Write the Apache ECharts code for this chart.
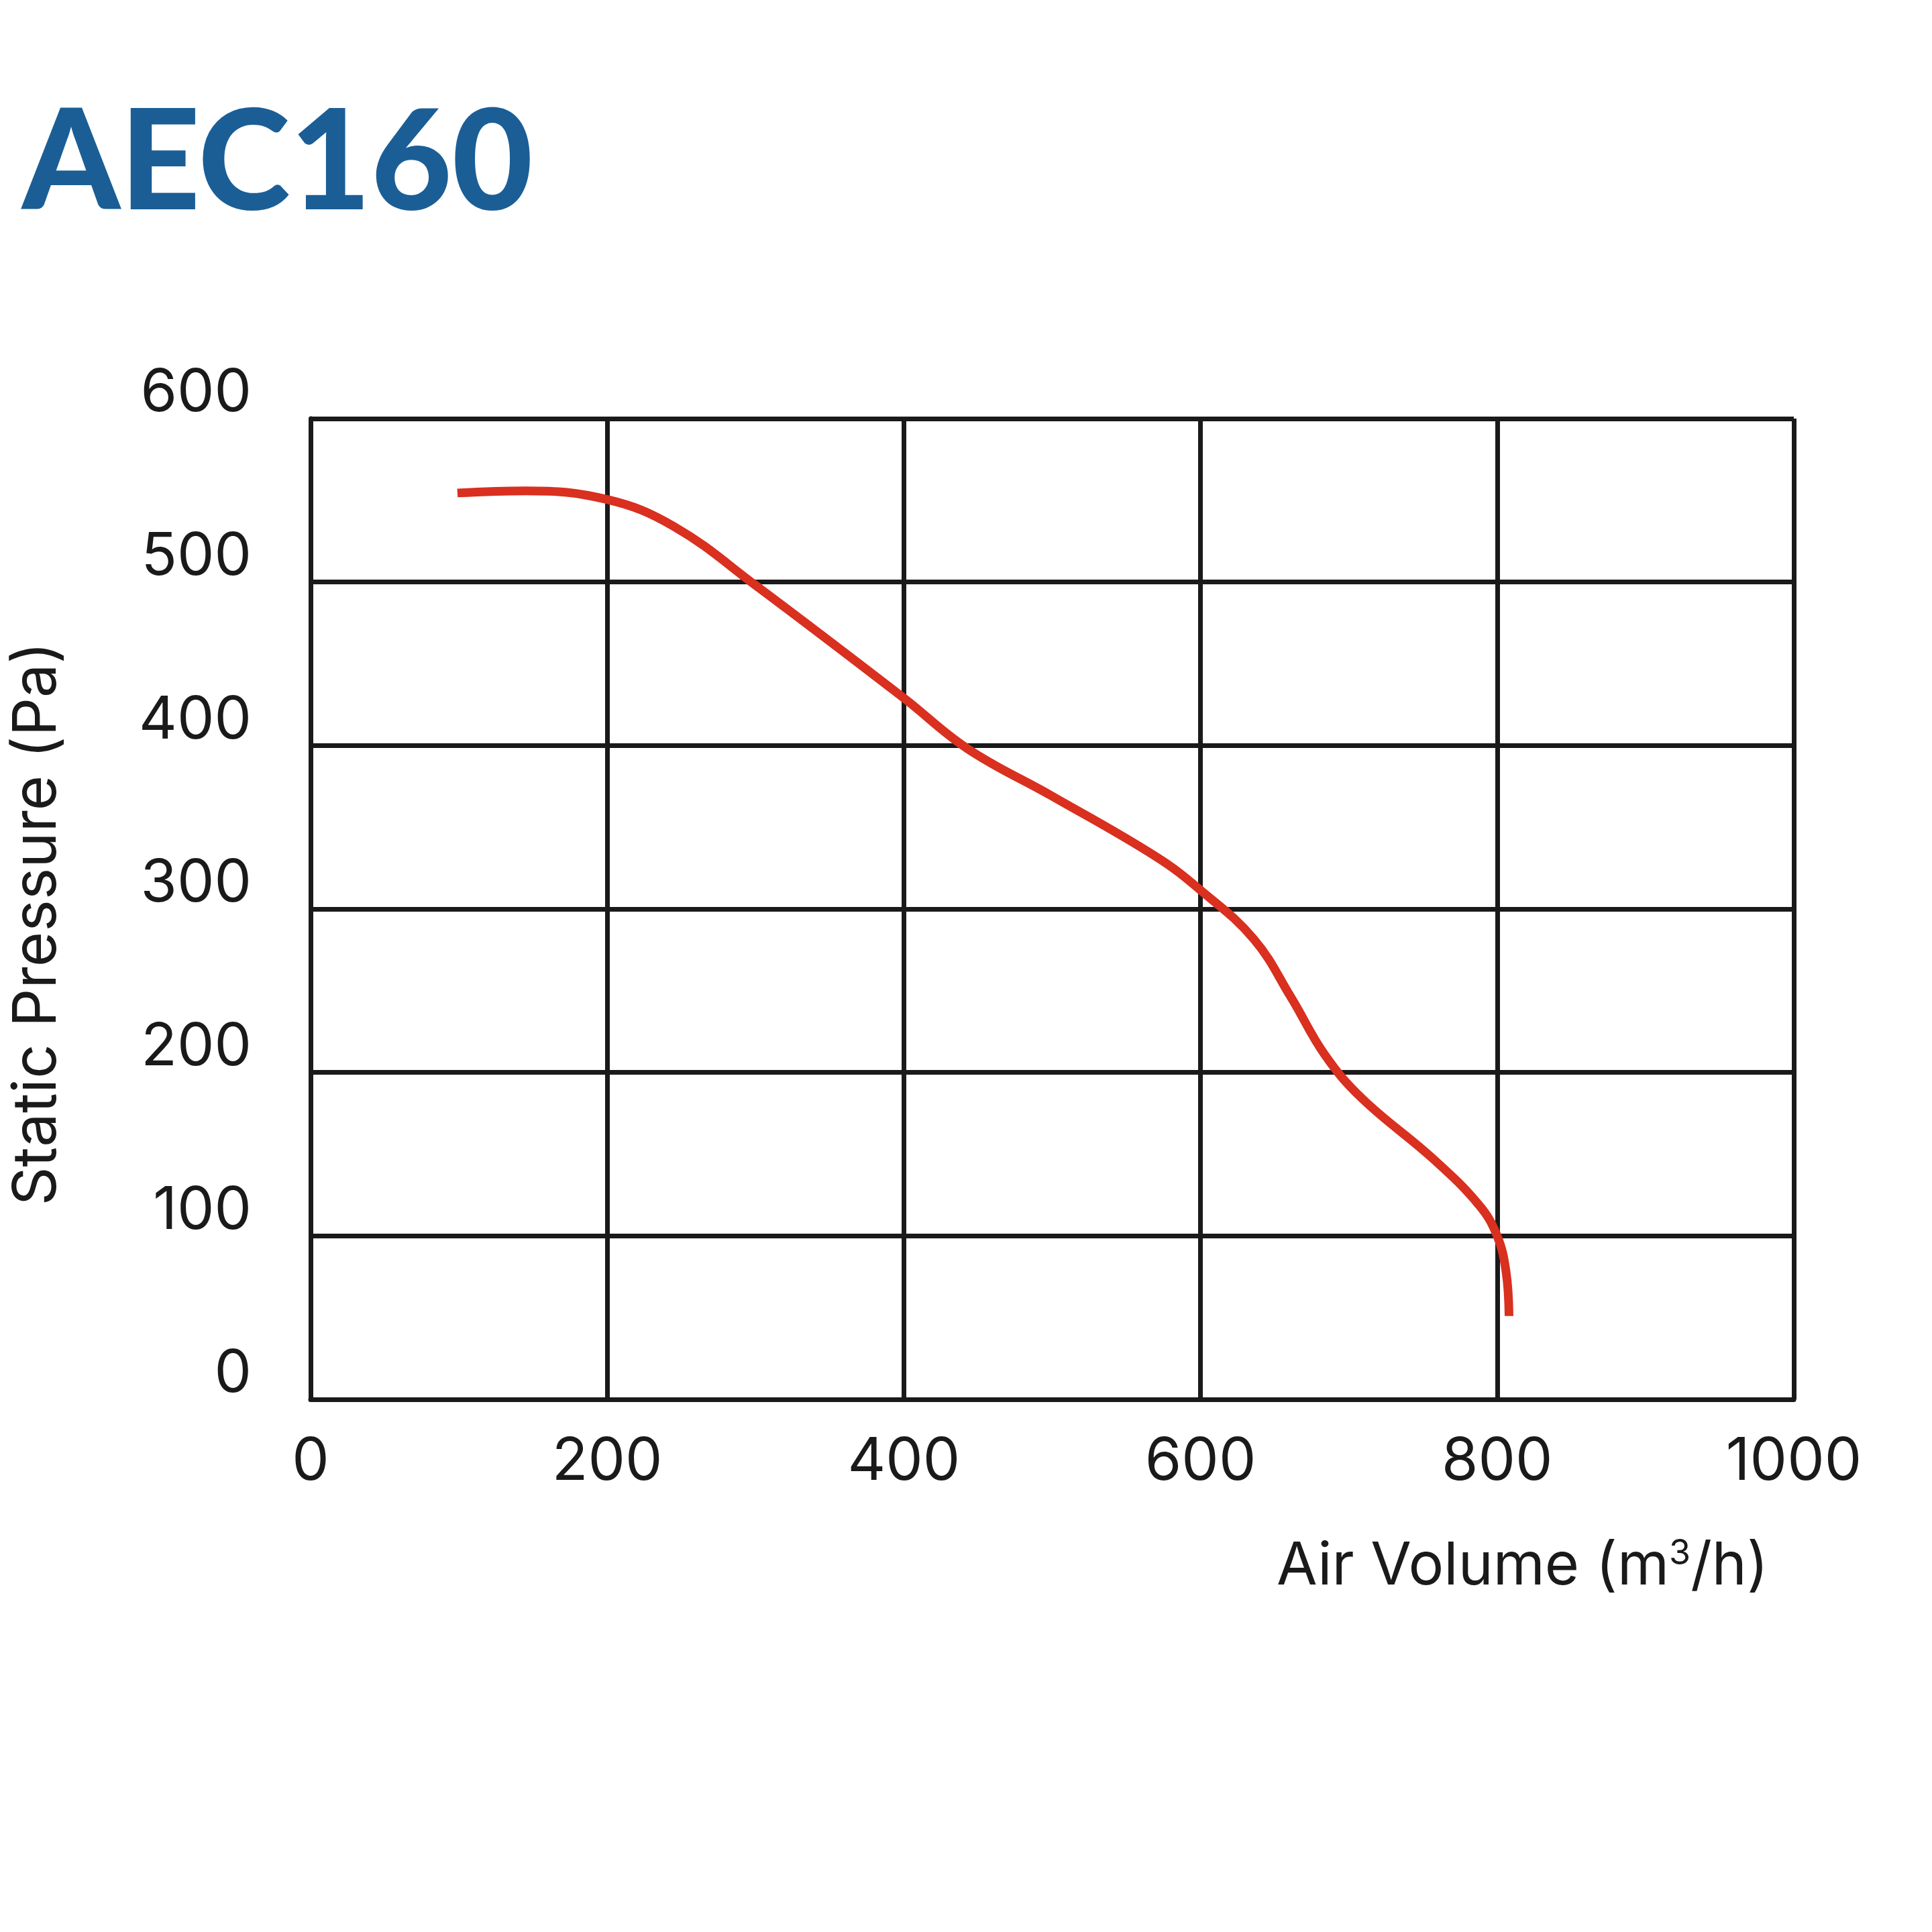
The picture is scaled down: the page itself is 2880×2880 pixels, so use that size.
<!DOCTYPE html>
<html>
<head>
<meta charset="utf-8">
<script src="https://cdn.jsdelivr.net/npm/echarts@6/dist/echarts.min.js"></script>
<style>
html,body{margin:0;padding:0;background:#fff;}
#chart{width:2880px;height:2880px;}
</style>
</head>
<body>
<div id="chart"></div>
<script>
const titleText = 'AEC160';
const xAxisName = 'Air Volume (m{sup|3}/h)';
const yAxisName = 'Static Pressure (Pa)';
const xTicks = [0, 200, 400, 600, 800, 1000];
const yTicks = [0, 100, 200, 300, 400, 500, 600];
const airVolume = [99, 145, 200, 245, 300, 400, 443, 500, 570, 600, 636, 661, 684, 709, 757, 788, 800, 806, 808];
const staticPressure = [554.5, 555.8, 550.5, 534, 498, 429, 398, 369, 332, 311.5, 281.5, 246, 210.5, 184, 147, 118.6, 100, 78, 51];

const ink = '#1a1a1a';
const font = 'Inter, "Noto Sans", sans-serif';
const chart = echarts.init(document.getElementById('chart'), null, {renderer: 'canvas'});
chart.setOption({
  backgroundColor: '#ffffff',
  animation: false,
  title: {
    text: titleText,
    left: 28,
    top: 136,
    textStyle: {fontFamily: 'Lato, "Noto Sans", sans-serif', fontWeight: 900, fontSize: 208, color: '#1B5E96'}
  },
  grid: {left: 463, top: 624, width: 2211, height: 1462, containLabel: false},
  xAxis: {
    type: 'value',
    min: xTicks[0], max: xTicks[xTicks.length - 1], interval: 200,
    axisLine: {show: true, lineStyle: {color: ink, width: 7}},
    axisTick: {show: false},
    splitLine: {show: true, lineStyle: {color: ink, width: 7}},
    axisLabel: {margin: 50, fontSize: 88, color: ink, fontFamily: font, formatter: v => String(v)},
    name: xAxisName,
    nameLocation: 'end',
    nameGap: -38,
    nameTextStyle: {
      align: 'right', verticalAlign: 'top', padding: [204, 0, 0, 0],
      fontSize: 88, color: ink, fontFamily: font,
      rich: {sup: {fontSize: 52, color: ink, fontFamily: font, padding: [0, 0, 40, 0]}}
    }
  },
  yAxis: {
    type: 'value',
    min: yTicks[0], max: yTicks[yTicks.length - 1], interval: 100,
    axisLine: {show: true, lineStyle: {color: ink, width: 7}},
    axisTick: {show: false},
    splitLine: {show: true, lineStyle: {color: ink, width: 7}},
    axisLabel: {margin: 88, fontSize: 88, color: ink, fontFamily: font, verticalAlign: 'bottom', lineHeight: 74, formatter: v => String(v)},
    name: yAxisName,
    nameLocation: 'middle',
    nameGap: 362,
    nameTextStyle: {fontSize: 90, color: ink, fontFamily: font, padding: [0, 44, 0, 0]}
  },
  series: [{
    type: 'line',
    data: airVolume.map((v, i) => [v, staticPressure[i]]),
    smooth: 0.4,
    showSymbol: false,
    lineStyle: {color: '#D9301F', width: 13},
    z: 5
  }]
});
</script>
</body>
</html>
